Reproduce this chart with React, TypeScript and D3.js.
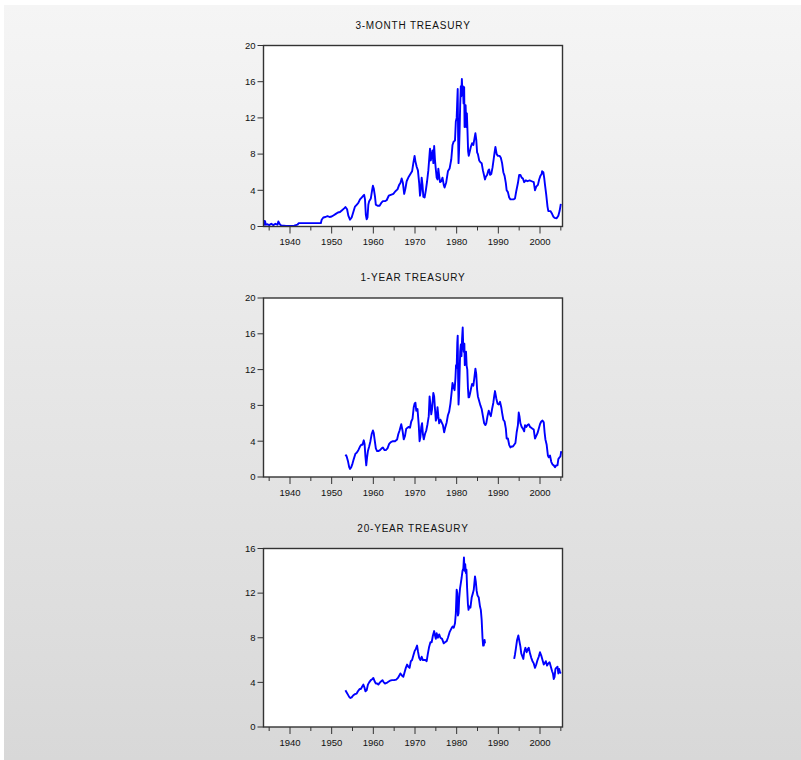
import React from "react";
import * as d3 from "d3";

type Pt = [number, number | null];

const titles = ["3-MONTH TREASURY", "1-YEAR TREASURY", "20-YEAR TREASURY"];
const yMaxes = [20, 20, 16];
const yTickValues = [
  [0, 4, 8, 12, 16, 20],
  [0, 4, 8, 12, 16, 20],
  [0, 4, 8, 12, 16],
];
const xMajorTicks = [1940, 1950, 1960, 1970, 1980, 1990, 2000];
const xMinorTicks = [1935, 1945, 1955, 1965, 1975, 1985, 1995, 2005];
const xDomain: [number, number] = [1933.64, 2005.4];

const tbill3m: Pt[] = [
  [1933.7, 0.7], [1933.8, 0.2], [1934.0, 0.6], [1934.2, 0.2], [1934.6, 0.25], [1935, 0.15], [1935.5, 0.3], [1936, 0.15],
  [1936.5, 0.3], [1937, 0.2], [1937.2, 0.55], [1937.5, 0.3], [1937.9, 0.1], [1938.5, 0.1], [1939, 0.05], [1940, 0.05],
  [1941, 0.1], [1941.8, 0.2], [1942.1, 0.37], [1947.4, 0.37], [1947.6, 0.75], [1948, 1.0], [1948.5, 1.05], [1949, 1.15],
  [1949.5, 1.05], [1950, 1.1], [1950.5, 1.25], [1951, 1.4], [1951.5, 1.55], [1952, 1.6], [1952.5, 1.8], [1953, 2.0],
  [1953.3, 2.15], [1953.7, 1.9], [1954, 1.2], [1954.4, 0.75], [1954.8, 1.0], [1955.2, 1.6], [1955.6, 2.2], [1956, 2.4],
  [1956.4, 2.6], [1956.8, 3.0], [1957.2, 3.2], [1957.6, 3.4], [1957.8, 3.5], [1958.0, 3.0], [1958.2, 1.3], [1958.4, 0.8],
  [1958.6, 1.0], [1958.8, 2.4], [1959, 2.8], [1959.4, 3.1], [1959.7, 4.0], [1959.9, 4.5], [1960.1, 4.2], [1960.4, 3.3],
  [1960.6, 2.4], [1961, 2.3], [1961.5, 2.3], [1961.9, 2.6], [1962.3, 2.8], [1962.8, 2.8], [1963.2, 2.9], [1963.7, 3.4],
  [1964.2, 3.5], [1964.8, 3.6], [1965.3, 3.9], [1965.8, 4.1], [1966.2, 4.6], [1966.5, 4.8], [1966.8, 5.3], [1967.1, 4.8],
  [1967.4, 3.6], [1967.7, 4.2], [1968.0, 5.0], [1968.5, 5.5], [1968.9, 5.8], [1969.3, 6.1], [1969.6, 7.0], [1969.9, 7.8],
  [1970.1, 7.2], [1970.4, 6.6], [1970.7, 6.2], [1971.0, 4.8], [1971.2, 3.4], [1971.4, 4.0], [1971.6, 5.4], [1971.8, 4.6],
  [1972.0, 3.3], [1972.3, 3.2], [1972.6, 4.0], [1972.9, 5.0], [1973.2, 6.2], [1973.5, 8.0], [1973.6, 8.6], [1973.8, 7.3],
  [1974.0, 7.8], [1974.2, 8.4], [1974.4, 7.0], [1974.6, 8.9], [1974.8, 7.3], [1975.0, 6.3], [1975.2, 5.4], [1975.4, 5.2],
  [1975.6, 6.4], [1975.8, 5.6], [1976.0, 4.9], [1976.3, 5.0], [1976.6, 5.4], [1976.9, 4.6], [1977.1, 4.3], [1977.5, 4.9],
  [1977.9, 6.1], [1978.3, 6.4], [1978.7, 7.4], [1979.0, 9.0], [1979.3, 9.4], [1979.6, 9.5], [1979.8, 11.6], [1980.0, 12.0],
  [1980.15, 14.0], [1980.25, 15.2], [1980.35, 10.0], [1980.45, 7.0], [1980.55, 8.1], [1980.7, 10.5], [1980.85, 13.5],
  [1981.0, 15.5], [1981.1, 14.4], [1981.25, 16.3], [1981.4, 14.5], [1981.5, 15.5], [1981.65, 13.6], [1981.8, 15.4],
  [1981.9, 11.0], [1982.0, 12.5], [1982.15, 13.4], [1982.3, 11.0], [1982.45, 12.5], [1982.6, 10.5], [1982.75, 8.3],
  [1982.9, 7.8], [1983.1, 8.2], [1983.4, 8.8], [1983.7, 9.2], [1984.0, 9.0], [1984.3, 9.8], [1984.5, 10.3], [1984.7, 9.6],
  [1984.9, 8.2], [1985.1, 8.0], [1985.4, 7.3], [1985.7, 7.1], [1986.0, 7.0], [1986.3, 6.2], [1986.6, 5.6], [1986.8, 5.2],
  [1987.0, 5.5], [1987.3, 5.7], [1987.6, 6.2], [1987.8, 6.3], [1988.0, 5.7], [1988.3, 5.8], [1988.6, 6.5], [1988.9, 7.5],
  [1989.1, 8.2], [1989.3, 8.8], [1989.6, 8.0], [1989.9, 7.8], [1990.3, 7.8], [1990.6, 7.6], [1990.9, 7.0], [1991.2, 6.0],
  [1991.5, 5.6], [1991.8, 4.8], [1992.0, 4.0], [1992.3, 3.8], [1992.6, 3.2], [1992.9, 3.0], [1993.3, 3.0], [1993.7, 3.0],
  [1994.0, 3.1], [1994.3, 3.9], [1994.7, 4.8], [1995.0, 5.7], [1995.3, 5.7], [1995.6, 5.4], [1995.9, 5.3], [1996.2, 4.9],
  [1996.6, 5.1], [1997.0, 5.0], [1997.5, 5.1], [1998.0, 5.0], [1998.5, 4.9], [1998.8, 4.0], [1999.1, 4.4], [1999.5, 4.6],
  [1999.8, 5.2], [2000.1, 5.6], [2000.4, 5.8], [2000.5, 6.1], [2000.8, 6.0], [2001.0, 5.4], [2001.2, 4.6], [2001.5, 3.5],
  [2001.8, 2.2], [2002.0, 1.7], [2002.5, 1.7], [2002.9, 1.4], [2003.2, 1.1], [2003.5, 0.95], [2004.0, 0.9], [2004.4, 1.2],
  [2004.7, 1.7], [2005.0, 2.5],
];

const tbill1y: Pt[] = [
  [1953.3, 2.5], [1953.6, 2.3], [1953.9, 1.8], [1954.2, 1.1], [1954.4, 0.9], [1954.7, 1.1], [1955.0, 1.5], [1955.3, 2.0],
  [1955.7, 2.6], [1956.0, 2.7], [1956.4, 3.0], [1956.8, 3.4], [1957.1, 3.6], [1957.4, 3.6], [1957.7, 4.1], [1957.9, 3.7],
  [1958.1, 2.3], [1958.3, 1.3], [1958.5, 2.2], [1958.7, 2.9], [1959.0, 3.4], [1959.3, 4.0], [1959.6, 4.8], [1959.9, 5.2],
  [1960.1, 4.9], [1960.3, 4.2], [1960.6, 3.2], [1960.9, 2.9], [1961.2, 2.9], [1961.6, 3.0], [1962.0, 3.2], [1962.3, 3.3],
  [1962.7, 3.0], [1963.0, 3.0], [1963.4, 3.2], [1963.8, 3.7], [1964.2, 3.9], [1964.7, 4.0], [1965.2, 4.0], [1965.7, 4.2],
  [1966.0, 4.8], [1966.3, 5.2], [1966.7, 5.9], [1967.0, 5.2], [1967.3, 4.2], [1967.6, 4.6], [1967.9, 5.4], [1968.2, 5.5],
  [1968.5, 5.6], [1968.8, 5.5], [1969.1, 6.2], [1969.4, 6.5], [1969.7, 7.8], [1969.9, 8.2], [1970.1, 8.3], [1970.3, 7.4],
  [1970.6, 7.6], [1970.9, 5.8], [1971.1, 4.0], [1971.3, 4.5], [1971.5, 5.6], [1971.7, 6.0], [1971.9, 4.8], [1972.1, 4.2],
  [1972.4, 4.8], [1972.7, 5.2], [1973.0, 5.9], [1973.3, 6.8], [1973.5, 9.0], [1973.7, 8.1], [1973.9, 7.0], [1974.1, 7.6],
  [1974.4, 9.4], [1974.6, 9.0], [1974.8, 7.6], [1975.0, 6.3], [1975.2, 6.6], [1975.4, 7.8], [1975.6, 6.8], [1975.8, 6.0],
  [1976.1, 6.4], [1976.4, 6.1], [1976.7, 5.8], [1977.0, 5.0], [1977.3, 5.6], [1977.6, 6.1], [1977.9, 6.9], [1978.2, 7.3],
  [1978.5, 8.2], [1978.8, 9.5], [1979.0, 10.5], [1979.3, 10.0], [1979.5, 9.7], [1979.7, 11.0], [1979.85, 12.5],
  [1980.0, 12.2], [1980.15, 15.0], [1980.25, 15.8], [1980.35, 11.0], [1980.45, 8.1], [1980.55, 9.0], [1980.7, 11.5],
  [1980.85, 14.0], [1981.0, 14.8], [1981.15, 13.5], [1981.3, 15.5], [1981.45, 16.7], [1981.55, 15.0], [1981.7, 14.0],
  [1981.85, 14.9], [1981.95, 12.5], [1982.1, 13.0], [1982.25, 14.0], [1982.4, 12.4], [1982.55, 12.0], [1982.7, 10.0],
  [1982.85, 8.9], [1983.0, 8.9], [1983.2, 9.3], [1983.5, 10.0], [1983.7, 10.4], [1984.0, 10.2], [1984.2, 10.9],
  [1984.5, 12.1], [1984.7, 11.5], [1984.9, 9.8], [1985.1, 9.0], [1985.4, 8.5], [1985.7, 8.0], [1986.0, 7.6], [1986.3, 6.8],
  [1986.6, 6.0], [1986.9, 5.8], [1987.1, 6.0], [1987.4, 6.8], [1987.7, 7.4], [1987.9, 7.1], [1988.2, 6.8], [1988.5, 7.6],
  [1988.8, 8.3], [1989.0, 9.0], [1989.2, 9.6], [1989.5, 8.8], [1989.8, 8.2], [1990.1, 8.1], [1990.4, 8.4], [1990.7, 7.8],
  [1990.9, 7.2], [1991.2, 6.4], [1991.5, 6.2], [1991.8, 5.4], [1992.0, 4.3], [1992.3, 4.3], [1992.6, 3.6], [1992.9, 3.3],
  [1993.2, 3.4], [1993.5, 3.4], [1993.8, 3.6], [1994.1, 3.8], [1994.4, 5.0], [1994.7, 5.8], [1994.9, 7.2], [1995.1, 6.7],
  [1995.3, 6.0], [1995.6, 5.6], [1995.9, 5.4], [1996.2, 5.1], [1996.4, 5.8], [1996.7, 5.6], [1997.0, 5.8], [1997.3, 5.9],
  [1997.6, 5.6], [1997.9, 5.5], [1998.2, 5.4], [1998.5, 5.3], [1998.8, 4.3], [1999.1, 4.6], [1999.4, 4.9], [1999.7, 5.4],
  [2000.0, 5.9], [2000.3, 6.2], [2000.6, 6.3], [2000.9, 6.1], [2001.1, 5.0], [2001.3, 4.2], [2001.6, 3.6], [2001.9, 2.4],
  [2002.1, 2.2], [2002.4, 2.4], [2002.7, 1.7], [2003.0, 1.4], [2003.3, 1.3], [2003.6, 1.1], [2003.9, 1.3], [2004.2, 1.3],
  [2004.4, 2.0], [2004.7, 2.2], [2004.9, 2.3], [2005.1, 2.9],
];

const tbond20y: Pt[] = [
  [1953.3, 3.3], [1953.6, 3.1], [1953.9, 2.9], [1954.2, 2.7], [1954.5, 2.6], [1954.8, 2.65], [1955.2, 2.85], [1955.6, 2.95],
  [1956.0, 3.0], [1956.3, 3.2], [1956.7, 3.4], [1957.0, 3.4], [1957.3, 3.6], [1957.6, 3.8], [1957.9, 3.5], [1958.1, 3.2],
  [1958.4, 3.3], [1958.7, 3.8], [1959.0, 4.0], [1959.4, 4.2], [1959.8, 4.3], [1960.0, 4.4], [1960.3, 4.1], [1960.6, 3.9],
  [1960.9, 3.9], [1961.2, 3.8], [1961.6, 4.0], [1961.9, 4.1], [1962.2, 4.2], [1962.5, 4.0], [1962.8, 3.9], [1963.2, 3.95],
  [1963.6, 4.05], [1964.0, 4.15], [1964.5, 4.2], [1965.0, 4.2], [1965.5, 4.25], [1965.9, 4.4], [1966.2, 4.6], [1966.5, 4.8],
  [1966.9, 4.6], [1967.2, 4.5], [1967.5, 4.9], [1967.8, 5.3], [1968.1, 5.6], [1968.4, 5.4], [1968.7, 5.3], [1969.0, 5.9],
  [1969.3, 6.0], [1969.6, 6.4], [1969.9, 6.8], [1970.2, 7.0], [1970.5, 7.3], [1970.7, 6.8], [1971.0, 6.2], [1971.3, 6.0],
  [1971.6, 6.3], [1971.9, 6.0], [1972.2, 6.0], [1972.5, 6.0], [1972.8, 5.9], [1973.1, 6.6], [1973.4, 7.2], [1973.7, 7.6],
  [1974.0, 7.6], [1974.3, 8.2], [1974.6, 8.6], [1974.8, 8.2], [1975.0, 7.9], [1975.2, 8.4], [1975.5, 8.0], [1975.8, 8.3],
  [1976.1, 8.0], [1976.5, 7.9], [1976.9, 7.5], [1977.2, 7.6], [1977.6, 7.7], [1977.9, 8.0], [1978.3, 8.5], [1978.7, 8.8],
  [1979.0, 9.0], [1979.3, 8.9], [1979.6, 9.3], [1979.8, 10.2], [1980.0, 12.3], [1980.15, 12.0], [1980.3, 10.0],
  [1980.45, 10.2], [1980.6, 11.5], [1980.8, 12.4], [1981.0, 12.9], [1981.2, 13.4], [1981.4, 14.0], [1981.6, 14.2],
  [1981.75, 15.2], [1981.9, 14.0], [1982.05, 14.6], [1982.2, 13.8], [1982.35, 14.1], [1982.5, 12.5], [1982.7, 11.0],
  [1982.85, 10.5], [1983.0, 10.8], [1983.3, 10.7], [1983.6, 11.6], [1983.9, 12.0], [1984.1, 12.3], [1984.4, 13.5],
  [1984.6, 13.0], [1984.8, 12.2], [1985.0, 11.8], [1985.3, 11.6], [1985.6, 10.8], [1985.8, 10.5], [1986.0, 9.6],
  [1986.2, 8.0], [1986.35, 7.3], [1986.5, 7.3], [1986.7, 7.8], [1986.8, 7.5],
  [1990.0, null],
  [1993.8, 6.1], [1994.0, 6.5], [1994.2, 7.0], [1994.5, 7.8], [1994.8, 8.2], [1995.0, 7.8], [1995.3, 7.2], [1995.5, 6.6],
  [1995.8, 6.3], [1996.0, 6.1], [1996.2, 6.7], [1996.5, 7.1], [1996.8, 6.7], [1997.1, 7.0], [1997.3, 7.1], [1997.6, 6.6],
  [1997.9, 6.2], [1998.2, 5.9], [1998.5, 5.7], [1998.8, 5.3], [1999.1, 5.6], [1999.4, 6.0], [1999.7, 6.3], [2000.0, 6.7],
  [2000.3, 6.4], [2000.6, 6.0], [2000.9, 5.6], [2001.1, 5.7], [2001.4, 5.9], [2001.7, 5.5], [2002.0, 5.7], [2002.3, 5.8],
  [2002.6, 5.4], [2002.9, 5.0], [2003.1, 4.8], [2003.3, 4.3], [2003.5, 4.5], [2003.7, 5.2], [2003.9, 5.3], [2004.2, 5.4],
  [2004.4, 4.8], [2004.6, 5.2], [2004.8, 4.9], [2005.0, 4.8],
];

const seriesList = [tbill3m, tbill1y, tbond20y];

const W = 801;
const H = 760;
const LEFT = 263.5;
const RIGHT = 562.5;
const panelTops = [45.5, 298, 548.5];
const panelBottoms = [226.5, 477, 727];
const FONT = "'Liberation Sans', Arial, sans-serif";

function Panel({ idx }: { idx: number }) {
  const top = panelTops[idx];
  const bottom = panelBottoms[idx];
  const x = d3.scaleLinear().domain(xDomain).range([LEFT, RIGHT]);
  const y = d3.scaleLinear().domain([0, yMaxes[idx]]).range([bottom, top]);
  const line = d3
    .line<Pt>()
    .defined((d) => d[1] !== null)
    .x((d) => x(d[0]))
    .y((d) => y(d[1] as number));
  const path = line(seriesList[idx]) || "";
  const clipId = `clip-${idx}`;
  return (
    <g>
      <text
        x={(LEFT + RIGHT) / 2}
        y={top - 17}
        textAnchor="middle"
        fontFamily={FONT}
        fontSize={10}
        letterSpacing={0.8}
        fill="#111"
      >
        {titles[idx]}
      </text>
      <rect x={LEFT} y={top} width={RIGHT - LEFT} height={bottom - top} fill="#ffffff" />
      <clipPath id={clipId}>
        <rect x={LEFT} y={top} width={RIGHT - LEFT} height={bottom - top} />
      </clipPath>
      <path
        d={path}
        fill="none"
        stroke="#0000ff"
        strokeWidth={1.9}
        strokeLinejoin="round"
        clipPath={`url(#${clipId})`}
      />
      <rect
        x={LEFT}
        y={top}
        width={RIGHT - LEFT}
        height={bottom - top}
        fill="none"
        stroke="#333"
        strokeWidth={1.4}
      />
      {yTickValues[idx].map((v) => (
        <g key={`y${v}`}>
          <line x1={LEFT - 6} x2={LEFT} y1={y(v)} y2={y(v)} stroke="#333" strokeWidth={1} />
          <text
            x={LEFT - 8}
            y={y(v) + 3.3}
            textAnchor="end"
            fontFamily={FONT}
            fontSize={9.5}
            fill="#111"
          >
            {v}
          </text>
        </g>
      ))}
      {xMajorTicks.map((t) => (
        <g key={`xM${t}`}>
          <line x1={x(t)} x2={x(t)} y1={bottom} y2={bottom + 7} stroke="#333" strokeWidth={1} />
          <text
            x={x(t)}
            y={bottom + 18.5}
            textAnchor="middle"
            fontFamily={FONT}
            fontSize={9.5}
            fill="#111"
          >
            {t}
          </text>
        </g>
      ))}
      {xMinorTicks.map((t) => (
        <line key={`xm${t}`} x1={x(t)} x2={x(t)} y1={bottom} y2={bottom + 4} stroke="#333" strokeWidth={1} />
      ))}
    </g>
  );
}

export default function App() {
  return (
    <svg
      width={W}
      height={H}
      style={{ position: "absolute", left: 0, top: 0, display: "block" }}
    >
      <defs>
        <linearGradient id="bg" x1="0" y1="0" x2="0" y2="1">
          <stop offset="0%" stopColor="#f5f5f5" />
          <stop offset="100%" stopColor="#d8d8d8" />
        </linearGradient>
      </defs>
      <rect x={0} y={0} width={W} height={H} fill="#ffffff" />
      <rect x={4} y={5} width={W - 4} height={H - 5} fill="url(#bg)" />
      {[0, 1, 2].map((i) => (
        <Panel key={i} idx={i} />
      ))}
    </svg>
  );
}
